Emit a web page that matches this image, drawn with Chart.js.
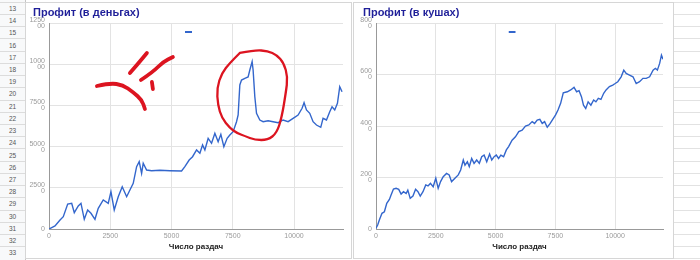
<!DOCTYPE html>
<html lang="ru"><head><meta charset="utf-8">
<script src="https://cdn.jsdelivr.net/npm/chart.js@4.4.1/dist/chart.umd.min.js"></script>
<style>
html,body{margin:0;padding:0;background:#fff}
body{position:relative;width:700px;height:260px;overflow:hidden;font-family:Arial,"Liberation Sans",sans-serif}
#rowhead{position:absolute;left:0;top:0;width:25px;height:260px;background:#f8f9fa;border-right:1px solid #c4c4c4}
.rn{position:absolute;left:0;width:25px;box-sizing:border-box;border-top:1px solid #dcdcdc;font-size:6.5px;color:#555;display:flex;align-items:center;justify-content:center}
#cells{position:absolute;left:674px;top:0;width:26px;height:260px;background:#fff}
.cl{position:absolute;left:0;width:26px;height:0;border-top:1px solid #e2e2e2}
.panel{position:absolute;background:#fff;border:1px solid #d6d6d6;box-sizing:border-box}
canvas{position:absolute}
</style></head><body>
<div id="rowhead"></div>
<div id="cells"></div>
<div class="panel" style="left:25px;top:2px;width:327px;height:257px"></div>
<div class="panel" style="left:353px;top:2px;width:321px;height:257px"></div>
<canvas id="c1" width="325" height="255" style="left:27px;top:3px"></canvas>
<canvas id="c2" width="318" height="255" style="left:355px;top:3px"></canvas>
<script>
// ---------- data ----------
const rowNumbers = [13,14,15,16,17,18,19,20,21,22,23,24,25,26,27,28,29,30,31,32,33];

const moneyTitle = 'Профит (в деньгах)';
const potsTitle = 'Профит (в кушах)';
const xAxisTitle = 'Число раздач';

const xTicks = [0, 2500, 5000, 7500, 10000];
const xTickLabels = ['0', '2500', '5000', '7500', '10000'];

const moneyYTicks = [0, 25000, 50000, 75000, 100000, 125000];
const moneyYTickLabels = [['0'], ['2500','0'], ['5000','0'], ['7500','0'], ['1000','00'], ['1250','00']];

const potsYTicks = [0, 2000, 4000, 6000, 8000];
const potsYTickLabels = [['0'], ['200','0'], ['400','0'], ['600','0'], ['800','0']];

const moneyX = [0,245,450,583,763,926,1032,1195,1305,1440,1578,1713,1876,2010,2214,2418,2528,2663,2826,2989,3169,3303,3438,3576,3682,3780,3846,3984,4188,4527,4934,5411,5546,5721,5860,6023,6158,6268,6362,6496,6635,6770,6904,7014,7137,7271,7381,7515,7654,7720,7789,7858,7993,8127,8197,8291,8331,8401,8470,8605,8740,8943,9147,9351,9555,9759,9963,10167,10330,10411,10509,10643,10778,10917,11092,11186,11325,11459,11553,11663,11773,11867,11961];
const moneyY = [0,1820,5460,7460,15170,15590,9890,13960,15590,5890,11530,9530,5890,12560,17600,15590,22630,11530,19600,25670,19600,23670,27730,37800,40840,33800,39870,35800,35380,35620,35380,35190,37800,41870,43870,47940,45930,50970,47940,55040,52000,58070,52970,57460,49940,55040,57040,59040,65110,69180,87380,90410,91450,92230,96480,101520,96480,80280,70210,66140,65110,65720,65110,64500,66140,65110,67170,69180,73240,76640,72210,70210,65110,63110,61710,67170,66140,71180,74210,72210,76270,86350,83310];

const potsX = [0,70,140,250,350,450,560,630,730,840,950,1050,1150,1260,1330,1430,1545,1655,1755,1850,1965,2080,2175,2275,2390,2500,2600,2700,2810,2950,3060,3160,3300,3440,3540,3650,3720,3820,3900,4000,4100,4210,4320,4420,4520,4630,4750,4840,4940,5030,5125,5220,5335,5450,5545,5690,5830,5970,6110,6250,6390,6530,6630,6740,6850,6950,7050,7160,7270,7370,7510,7610,7720,7830,8000,8140,8280,8390,8490,8590,8675,8770,8870,8985,9100,9195,9295,9405,9520,9620,9760,9900,10000,10110,10250,10360,10460,10600,10745,10880,11020,11160,11300,11440,11585,11680,11765,11860,11935,12000];
const potsY = [30,155,350,610,670,1000,1150,1320,1550,1580,1540,1360,1450,1380,1510,1190,1280,1540,1450,1280,1450,1710,1670,1770,1640,1970,1580,1840,2030,2160,2100,1840,1970,2100,2290,2680,2480,2610,2420,2740,2550,2680,2550,2810,2870,2610,2910,2680,2810,2870,2740,2870,2810,3070,3200,3450,3580,3780,3840,4000,4040,4170,4100,4230,4260,4100,4170,3950,4080,4230,4430,4620,4880,5290,5330,5400,5500,5330,5370,5140,4810,4680,4940,4810,5010,4940,5070,5030,5270,5400,5530,5590,5650,5720,5910,6170,6040,5980,5910,5650,5720,5850,5850,5910,6170,6240,6170,6430,6750,6590];

// hand-drawn red marks (in the money chart's data coordinates)
const sadBrowLeftX = [3303,3589,3996];        const sadBrowLeftY = [94660,99520,106800];
const sadBrowRightX = [3752,4241,4649,5057];  const sadBrowRightY = [90410,95270,101340,104370];
const sadEyeX = [4200,4241];                   const sadEyeY = [89200,84950];
const sadMouthX = [1957,2488,3018,3425,3793,3915]; const sadMouthY = [86770,88590,87380,83130,78280,72820];
const ringX = [7789,8401,8931,9298,9583,9746,9665,9502,9298,8931,8401,7993,7667,7381,7055,6892,6851,7055,7381,7789];
const ringY = [106800,108620,108010,105580,100730,92230,82520,67960,58250,54010,54010,56430,58250,61290,67350,75240,85560,94660,100730,106800];

// ---------- spreadsheet backdrop ----------
const rh = document.getElementById('rowhead');
const cells = document.getElementById('cells');
const ROW_H = 12.22, ROW0 = 1.8;
rowNumbers.forEach((n, i) => {
  const d = document.createElement('div');
  d.className = 'rn';
  d.style.top = (ROW0 + i * ROW_H) + 'px';
  d.style.height = ROW_H + 'px';
  d.textContent = n;
  rh.appendChild(d);
});
for (let i = 0; i <= rowNumbers.length; i++) {
  const l = document.createElement('div');
  l.className = 'cl';
  l.style.top = (ROW0 + i * ROW_H) + 'px';
  cells.appendChild(l);
}

// ---------- charts ----------
const FONT = 'Arial, "Liberation Sans", sans-serif';
const LINE = '#3366cc';
const RED = '#dc1420';

const legendPlace = {
  id: 'legendPlace',
  afterLayout(chart) {
    // let the wrapped y labels use the space left of the axis box (no clipping)
    if (chart.scales.y) chart.scales.y.left = 0;
    const lg = chart.legend, ca = chart.chartArea;
    if (!lg) return;
    const cx = (ca.left + ca.right) / 2;
    const w = lg.width, h = lg.height;
    lg.left = cx - 11; lg.right = lg.left + w;
    lg.top = ca.top + 8; lg.bottom = lg.top + h;
  }
};

const sketch = {
  id: 'sketch',
  afterDraw(chart, args, opts) {
    const strokes = opts.strokes || [];
    const {ctx, scales: {x, y}} = chart;
    ctx.save();
    ctx.strokeStyle = RED;
    ctx.lineCap = 'round';
    ctx.lineJoin = 'round';
    strokes.forEach(s => {
      const p = s.xs.map((v, i) => [x.getPixelForValue(v), y.getPixelForValue(s.ys[i])]);
      ctx.lineWidth = s.w;
      ctx.beginPath();
      ctx.moveTo(p[0][0], p[0][1]);
      if (p.length < 3) {
        for (let i = 1; i < p.length; i++) ctx.lineTo(p[i][0], p[i][1]);
      } else {
        for (let i = 1; i < p.length - 1; i++) {
          const mx = (p[i][0] + p[i+1][0]) / 2, my = (p[i][1] + p[i+1][1]) / 2;
          ctx.quadraticCurveTo(p[i][0], p[i][1], mx, my);
        }
        const l = p[p.length - 1];
        ctx.lineTo(l[0], l[1]);
      }
      ctx.stroke();
    });
    ctx.restore();
  }
};

function build(id, xs, ys, cfg) {
  const pts = xs.map((v, i) => ({x: v, y: ys[i]}));
  return new Chart(document.getElementById(id), {
    type: 'line',
    data: {datasets: [{label: '', data: pts, borderColor: LINE, backgroundColor: LINE, borderWidth: 1.4, pointRadius: 0, tension: 0, fill: false}]},
    options: {
      responsive: false, animation: false, devicePixelRatio: 1,
      layout: {padding: {left: cfg.padL, right: cfg.padR, top: 0, bottom: 0}},
      plugins: {
        title: {display: true, text: cfg.title, align: 'start', color: '#1f1f99',
                font: {family: FONT, size: 11, weight: 'bold'}, padding: {top: 3.6, bottom: 3.2}},
        legend: {display: true, position: 'chartArea', align: 'start',
                 labels: {boxWidth: 7, boxHeight: 2, padding: 0, font: {size: 2},
                          generateLabels: (c) => Chart.defaults.plugins.legend.labels.generateLabels(c).map(l => Object.assign(l, {lineWidth: 0, text: ''}))}},
        tooltip: {enabled: false},
        sketch: {strokes: cfg.strokes || []}
      },
      scales: {
        x: {
          type: 'linear', min: 0, max: 12000,
          afterBuildTicks: s => { s.ticks = xTicks.map(v => ({value: v})); },
          afterFit: s => { s.height = 29; },
          ticks: {callback: (v, i) => xTickLabels[i], color: '#9a9a9a', font: {family: FONT, size: 7}, padding: 3, maxRotation: 0, autoSkip: false},
          grid: {color: '#e3e3e3', drawTicks: false},
          border: {color: '#999', width: 1},
          title: {display: true, text: xAxisTitle, color: '#222', font: {family: FONT, size: 8, weight: 'bold'}, padding: {top: 0, bottom: 6}}
        },
        y: {
          type: 'linear', min: 0, max: cfg.yMax,
          afterBuildTicks: s => { s.ticks = cfg.yTicks.map(v => ({value: v})); },
          afterFit: s => { s.width = cfg.yW; },
          ticks: {callback: (v, i) => cfg.yLabels[i], color: '#9a9a9a', font: {family: FONT, size: 7, lineHeight: 0.86}, padding: 4, autoSkip: false},
          grid: {color: '#e3e3e3', drawTicks: false},
          border: {color: '#999', width: 1}
        }
      }
    },
    plugins: [legendPlace, sketch]
  });
}

build('c1', moneyX, moneyY, {
  title: moneyTitle, padL: 6, padR: 9, yW: 16, yMax: 125000,
  yTicks: moneyYTicks, yLabels: moneyYTickLabels,
  strokes: [
    {xs: sadBrowLeftX, ys: sadBrowLeftY, w: 3.8},
    {xs: sadBrowRightX, ys: sadBrowRightY, w: 3.8},
    {xs: sadEyeX, ys: sadEyeY, w: 3.8},
    {xs: sadMouthX, ys: sadMouthY, w: 3.8},
    {xs: ringX, ys: ringY, w: 2.3}
  ]
});
build('c2', potsX, potsY, {
  title: potsTitle, padL: 8, padR: 10, yW: 13, yMax: 8000,
  yTicks: potsYTicks, yLabels: potsYTickLabels
});
</script>
</body></html>
